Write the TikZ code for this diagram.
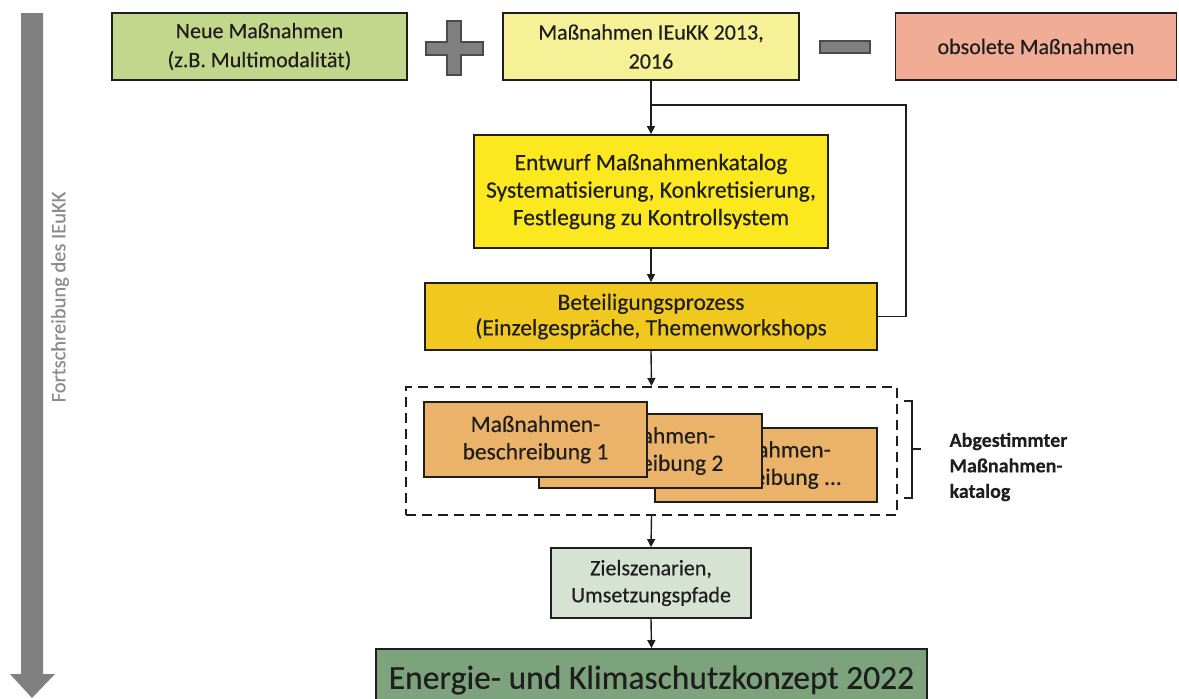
\documentclass[tikz,border=0pt]{standalone}
\usepackage{fontspec}
\setmainfont{Carlito}[FakeBold=0.35]
\usetikzlibrary{arrows.meta}
\definecolor{cneue}{RGB}{195,215,140}
\definecolor{cieukk}{RGB}{246,240,150}
\definecolor{cobs}{RGB}{240,172,148}
\definecolor{centw}{RGB}{252,232,30}
\definecolor{cbet}{RGB}{240,200,32}
\definecolor{csub}{RGB}{235,178,105}
\definecolor{cziel}{RGB}{214,227,210}
\definecolor{cenergie}{RGB}{125,163,125}
\definecolor{cgray}{RGB}{128,128,128}
\definecolor{cdark}{RGB}{30,30,30}
\definecolor{ctxtgray}{RGB}{140,140,140}
\tikzset{
  box/.style={draw=cdark, line width=1.8pt, inner sep=0pt, align=center, text=cdark},
  topfont/.style={font=\fontsize{22}{29}\selectfont},
  midfont/.style={font=\fontsize{23.5}{27.5}\selectfont},
  conn/.style={draw=cdark, line width=1.4pt, -{Triangle[length=8pt,width=8pt]}},
  plainline/.style={draw=cdark, line width=1.4pt},
}
\begin{document}
\begin{tikzpicture}[x=1pt,y=-1pt]
\useasboundingbox (0,0) rectangle (1179,699);
% big gray arrow at left
\fill[cgray] (21,13) -- (43,13) -- (43,674) -- (55,674) -- (32,698) -- (10,674) -- (21,674) -- cycle;
\node[rotate=90, text=ctxtgray, font=\fontsize{20.5}{25}\selectfont] (side) at (60,297) {Fortschreibung des IEuKK};
% top row
\node[box, topfont, fill=cneue, minimum width=295pt, minimum height=67pt] (neue) at (259.5,46.5) {Neue Maßnahmen\\(z.B. Multimodalität)};
\node[box, topfont, fill=cieukk, minimum width=296pt, minimum height=67pt] (ieukk) at (651,46.5) {Maßnahmen IEuKK 2013,\\2016};
\node[box, topfont, fill=cobs, minimum width=281pt, minimum height=67pt] (obs) at (1036,46.5) {obsolete Maßnahmen};
% plus and minus signs
\filldraw[fill=cgray, draw=cdark!80, line width=1.3pt] (447,21) -- (461,21) -- (461,42) -- (483,42) -- (483,55) -- (461,55) -- (461,75) -- (447,75) -- (447,55) -- (426,55) -- (426,42) -- (447,42) -- cycle;
\filldraw[fill=cgray, draw=cdark!80, line width=1.3pt] (820,41) rectangle (870,53);
% middle boxes
\node[box, midfont, fill=centw, minimum width=354pt, minimum height=113pt] (entw) at (651,191.5) {\rule{0pt}{4pt}Entwurf Maßnahmenkatalog\\Systematisierung, Konkretisierung,\\Festlegung zu Kontrollsystem};
\node[box, midfont, fill=cbet, minimum width=452pt, minimum height=67pt, font=\fontsize{23.5}{25.5}\selectfont] (bet) at (651,316.5) {Beteiligungsprozess\\(Einzelgespräche, Themenworkshops};
% catalog
\node[draw=cdark, line width=2pt, dash pattern=on 10pt off 6pt, minimum width=491pt, minimum height=128pt, inner sep=0pt] (cat) at (651.5,451) {};
\node[box, midfont, fill=csub, minimum width=222pt, minimum height=74pt] (d3) at (766,465) {Maßnahmen-\\beschreibung ...};
\node[box, midfont, fill=csub, minimum width=223pt, minimum height=74pt] (d2) at (650.5,451) {Maßnahmen-\\beschreibung 2};
\node[box, midfont, fill=csub, minimum width=223pt, minimum height=75pt] (d1) at (535.5,439.5) {Maßnahmen-\\beschreibung 1};
% bracket and label
\draw[plainline] (904,401) -- (912,401) -- (912,498) -- (904,498);
\draw[plainline] (912,449) -- (921,449);
\node[anchor=west, align=left, text=cdark, font=\bfseries\fontsize{20}{25.5}\selectfont] (katlabel) at (946,467) {Abgestimmter\\Maßnahmen-\\katalog};
% lower boxes
\node[box, fill=cziel, minimum width=200pt, minimum height=70pt, font=\fontsize{22}{27}\selectfont] (ziel) at (651,583) {Zielszenarien,\\Umsetzungspfade};
\node[box, fill=cenergie, minimum width=551pt, minimum height=62pt, font=\fontsize{33.5}{36}\selectfont] (en) at (651.5,680) {\raisebox{3pt}{Energie- und Klimaschutzkonzept 2022}};
% connectors
\coordinate (br) at (651,105);
\coordinate (fbk) at (906,105);
\draw[conn] (ieukk.south) -- (entw.north);
\draw[plainline] (br) -- (fbk) |- (bet.east);
\draw[conn] (entw.south) -- (bet.north);
\draw[conn] (bet.south) -- (cat.north);
\draw[conn] (cat.south) -- (ziel.north);
\draw[conn] (ziel.south) -- (en.north);
\end{tikzpicture}
\end{document}
